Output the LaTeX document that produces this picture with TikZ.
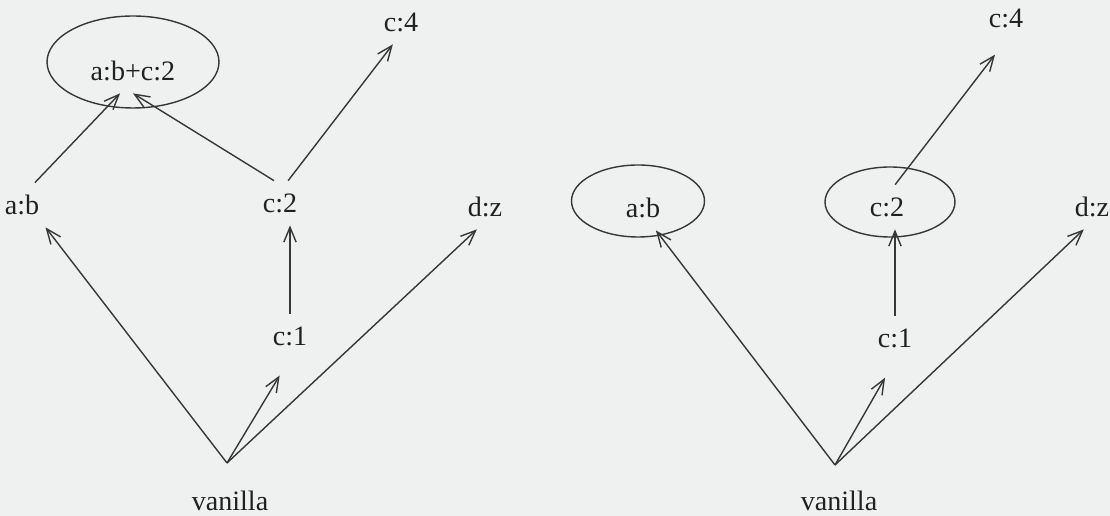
\documentclass[tikz,border=0pt]{standalone}
\usepackage{fontspec}
\setmainfont{Liberation Serif}
\usepackage{tikz}
\usetikzlibrary{arrows.meta,shapes.geometric}
\definecolor{paper}{RGB}{239,241,240}
\definecolor{ink}{RGB}{55,55,55}

\begin{document}
\begin{tikzpicture}[x=0.02cm,y=-0.02cm,>={Straight Barb[length=8.5pt,width=7pt]},
  lbl/.style={inner xsep=0.12cm,inner ysep=0pt,minimum height=0.88cm,text=ink!60!black,font=\fontsize{16}{19}\selectfont},
  ring/.style={draw=ink,ellipse,inner sep=0pt,line width=0.8pt},
  edge/.style={->,draw=ink,line width=0.8pt}]
  \useasboundingbox[fill=paper] (0,0) rectangle (1110,516);

  % left lattice
  \node[lbl] (abcL) at (133,71) {a:b+c:2};
  \node[ring,minimum width=3.44cm,minimum height=1.84cm] (ringL) at (133,62) {};
  \node[lbl] (abL) at (22,205) {a:b};
  \node[lbl] (c2L) at (280,203) {c:2};
  \node[lbl] (c4L) at (401,22) {c:4};
  \node[lbl] (dzL) at (485,207) {d:z};
  \node[lbl] (c1L) at (290,336) {c:1};
  \node[lbl] (vanL) at (230,501) {vanilla};
  \coordinate (vtopL) at (227,463);

  \draw[edge] (vtopL) -- (abL.south east);
  \draw[edge,shorten >=0.4cm] (vtopL) -- (c1L.south);
  \draw[edge] (vtopL) -- (dzL.-110);
  \draw[edge] (c1L.north) -- (c1L.north |- c2L.south);
  \draw[edge] (c2L.70) -- (c4L.-110);
  \draw[edge] (abL.60) -- (abcL.-120);
  \draw[edge] (c2L.105) -- (abcL.south);

  % right lattice
  \node[lbl] (abR) at (643,208) {a:b};
  \node[ring,minimum width=2.66cm,minimum height=1.44cm] (ringAbR) at (638,201) {};
  \node[lbl] (c2R) at (887,207) {c:2};
  \node[ring,minimum width=2.6cm,minimum height=1.4cm] (ringC2R) at (890,202) {};
  \node[lbl] (c4R) at (1006,18) {c:4};
  \node[lbl] (dzR) at (1092,207) {d:z};
  \node[lbl] (c1R) at (895,338) {c:1};
  \node[lbl] (vanR) at (839,501) {vanilla};
  \coordinate (vtopR) at (835,465);

  \draw[edge] (vtopR) -- (abR.-60);
  \draw[edge,shorten >=0.4cm] (vtopR) -- (c1R.south);
  \draw[edge] (vtopR) -- (dzR.-110);
  \draw[edge] (c1R.north) -- (c1R.north |- c2R.south);
  \draw[edge,shorten >=0.36cm] (c2R.70) -- (c4R.south);
\end{tikzpicture}
\end{document}
